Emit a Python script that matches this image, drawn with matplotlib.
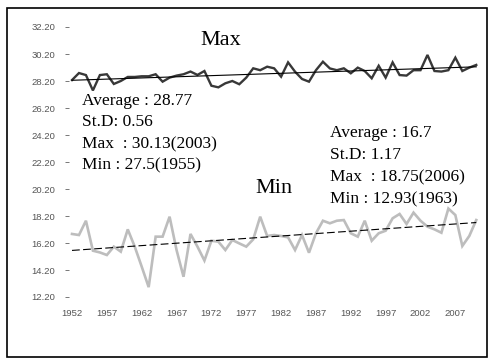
import numpy as np
import matplotlib
matplotlib.use("Agg")
import matplotlib.pyplot as plt
from matplotlib.patches import Rectangle

years = list(range(1952, 2011))

# annual maximum temperature
tmax = [28.27, 28.79, 28.64, 27.50, 28.64, 28.70, 27.98, 28.20, 28.50, 28.50,
        28.55, 28.55, 28.70, 28.15, 28.45, 28.60, 28.70, 28.90, 28.65, 28.94,
        27.85, 27.73, 28.03, 28.20, 27.96, 28.45, 29.14, 29.00, 29.26, 29.14,
        28.52, 29.58, 28.89, 28.35, 28.15, 29.00, 29.63, 29.13, 29.00, 29.14,
        28.77, 29.19, 28.94, 28.40, 29.33, 28.45, 29.58, 28.64, 28.60, 29.00,
        29.00, 30.13, 28.94, 28.90, 29.00, 29.93, 28.94, 29.19, 29.39]

# annual minimum temperature
tmin = [16.87, 16.79, 17.85, 15.63, 15.50, 15.31, 15.93, 15.56, 17.21, 15.93,
        14.45, 12.93, 16.67, 16.67, 18.15, 15.68, 13.70, 16.87, 15.93, 14.90,
        16.37, 16.30, 15.68, 16.42, 16.17, 15.93, 16.47, 18.15, 16.72, 16.79,
        16.72, 16.62, 15.68, 16.79, 15.48, 16.92, 17.85, 17.66, 17.85, 17.90,
        16.92, 16.67, 17.85, 16.37, 16.92, 17.11, 18.03, 18.35, 17.61, 18.45,
        17.85, 17.41, 17.21, 16.96, 18.75, 18.27, 15.98, 16.72, 17.90]

max_stats = ["Average : 28.77", "St.D: 0.56", "Max  : 30.13(2003)", "Min : 27.5(1955)"]
min_stats = ["Average : 16.7", "St.D: 1.17", "Max  : 18.75(2006)", "Min : 12.93(1963)"]

yticks = np.arange(12.2, 32.21, 2.0)
xticks = list(range(1952, 2008, 5))

W, H = 490, 361
fig = plt.figure(figsize=(W / 100, H / 100), dpi=100)
ax = fig.add_axes([69 / W, (H - 297) / H, (484 - 69) / W, 270 / H])

x = np.array(years)
ax.plot(x, tmax, color="#383838", lw=1.7, solid_joinstyle="miter")
ax.plot(x, tmin, color="#bdbdbd", lw=1.9, solid_joinstyle="miter")

# linear trends
for series, style in [(tmax, "-"), (tmin, (0, (7, 3)))]:
    k, b = np.polyfit(x, series, 1)
    ax.plot(x, k * x + b, color="black", lw=0.8, linestyle=style)

ax.set_xlim(1952 - 3 / 6.97, 1952 + (484 - 72) / 6.97)
ax.set_ylim(12.2, 32.2)
ax.set_yticks(yticks)
ax.set_yticklabels([f"{v:.2f}" for v in yticks])
ax.set_xticks(xticks)
ax.set_xticklabels([str(v) for v in xticks])
ax.tick_params(axis="y", length=3, width=0.7, color="#777777", pad=7,
               labelsize=6.8, labelcolor="#555555")
ax.tick_params(axis="x", length=0, pad=9, labelsize=6.8, labelcolor="#555555")
for lab in ax.get_xticklabels() + ax.get_yticklabels():
    lab.set_family("Liberation Sans")
for s in ax.spines.values():
    s.set_visible(False)

serif = "Liberation Serif"
fig.text(200 / W, 1 - 45 / H, "Max", family=serif, fontsize=16, va="baseline")
fig.text(255 / W, 1 - 193 / H, "Min", family=serif, fontsize=16, va="baseline")

for i, line in enumerate(max_stats):
    fig.text(82 / W, 1 - (105 + 21.5 * i) / H, line, family=serif,
             fontsize=12.5, va="baseline")
for i, line in enumerate(min_stats):
    fig.text(330 / W, 1 - (137 + 22 * i) / H, line, family=serif,
             fontsize=12.5, va="baseline")

# outer frame
fig.patches.append(Rectangle((7 / W, 1 - 357 / H), 480 / W, 349 / H,
                             transform=fig.transFigure, fill=False,
                             edgecolor="black", lw=1.2))

fig.savefig("out.png", dpi=100)
